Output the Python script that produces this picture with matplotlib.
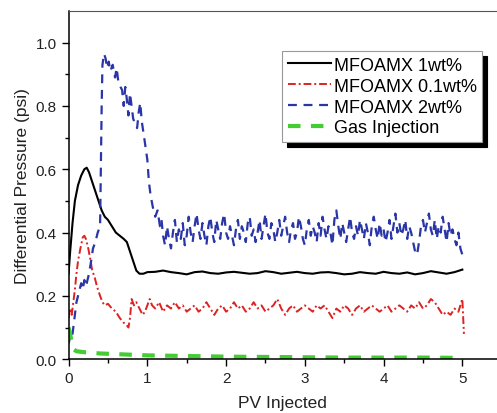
import matplotlib
matplotlib.use('Agg')
import matplotlib.pyplot as plt
import numpy as np

plt.rcParams['font.family'] = ['Liberation Sans', 'DejaVu Sans']

# ---------------- data ----------------
# MFOAMX 1wt%  (black, solid)
black_x_start = [0.0, 0.02, 0.05, 0.08, 0.12, 0.16, 0.20, 0.23, 0.26, 0.30, 0.34, 0.38,
                 0.42, 0.46, 0.50, 0.55, 0.60, 0.65, 0.70, 0.74, 0.78, 0.82, 0.86, 0.90,
                 0.95]
black_y_start = [0.27, 0.34, 0.43, 0.50, 0.55, 0.58, 0.60, 0.605, 0.59, 0.56, 0.53, 0.50,
                 0.47, 0.45, 0.44, 0.42, 0.40, 0.39, 0.38, 0.37, 0.34, 0.31, 0.28, 0.27,
                 0.27]
black_y_flat = [0.275, 0.276, 0.280, 0.275, 0.272, 0.268, 0.275, 0.277, 0.272, 0.270,
                0.274, 0.276, 0.273, 0.270, 0.272, 0.278, 0.275, 0.270, 0.273, 0.276,
                0.272, 0.270, 0.274, 0.275, 0.272, 0.268, 0.270, 0.275, 0.272, 0.270,
                0.276, 0.272, 0.270, 0.274, 0.268, 0.272, 0.278, 0.274, 0.270, 0.275,
                0.283]  # 1.0 .. 5.0

# MFOAMX 0.1wt%  (red, dash-dot)
red_x_start = [0.0, 0.02, 0.04, 0.06, 0.08, 0.10, 0.12, 0.15, 0.18, 0.20, 0.22, 0.25,
               0.28, 0.30, 0.33, 0.36, 0.40, 0.43, 0.46, 0.50, 0.55, 0.60, 0.65, 0.70,
               0.73, 0.76, 0.78, 0.80, 0.83, 0.86, 0.90, 0.94, 0.97, 1.00, 1.03, 1.06]
red_y_start = [0.13, 0.16, 0.14, 0.18, 0.22, 0.27, 0.31, 0.35, 0.385, 0.39, 0.38, 0.35,
               0.31, 0.28, 0.26, 0.23, 0.20, 0.18, 0.17, 0.175, 0.16, 0.15, 0.13, 0.115,
               0.11, 0.10, 0.13, 0.19, 0.17, 0.18, 0.16, 0.14, 0.15, 0.17, 0.19, 0.17]
red_y_flat = [.16, .18, .15, .17, .16, .18, .16, .17, .15, .16, .17, .15, .16, .18, .16,
              .14, .16, .17, .15, .16, .18, .16, .17, .15, .16, .18, .16, .17, .15, .16,
              .17, .19, .16, .14, .16, .17, .15, .16, .17, .16, .15, .17, .16, .17, .15,
              .13, .16, .15, .17, .16, .14, .16, .17, .15, .16, .17, .16, .15, .16, .17,
              .15, .16, .17, .16, .15, .17, .16, .18, .16, .17, .19, .18, .16, .14, .15,
              .14, .16, .15, .19]  # 1.10 .. 5.00
red_x_end = [5.02]
red_y_end = [0.08]

# MFOAMX 2wt%  (blue, dashed)
blue_x_start = [0.0, 0.02, 0.04, 0.06, 0.08, 0.10, 0.12, 0.14, 0.16, 0.18, 0.20, 0.22,
                0.25, 0.28, 0.31, 0.34, 0.37, 0.40, 0.42, 0.43, 0.45, 0.47, 0.49, 0.51,
                0.53, 0.56, 0.59, 0.61, 0.63, 0.66, 0.68, 0.70, 0.72, 0.74, 0.76, 0.78,
                0.80, 0.82, 0.85, 0.87, 0.89, 0.91, 0.93, 0.96, 1.00, 1.02, 1.04, 1.07,
                1.10, 1.13, 1.16, 1.18]
blue_y_start = [0.05, 0.07, 0.06, 0.10, 0.14, 0.18, 0.20, 0.22, 0.24, 0.22, 0.25, 0.23,
                0.26, 0.30, 0.35, 0.37, 0.40, 0.42, 0.80, 0.93, 0.965, 0.95, 0.92, 0.94,
                0.91, 0.93, 0.89, 0.92, 0.88, 0.86, 0.85, 0.80, 0.86, 0.82, 0.77, 0.84,
                0.80, 0.76, 0.74, 0.73, 0.78, 0.81, 0.75, 0.70, 0.63, 0.56, 0.52, 0.48,
                0.45, 0.47, 0.42, 0.44]
blue_y_flat = [.39, .36, .42, .38, .35, .40, .44, .37, .41, .38, .43, .36, .39, .45, .40, .37, .42,
               .46, .41, .38, .43, .39, .36, .42, .45, .40, .37, .44, .41, .38, .43, .46, .40, .38,
               .42, .39, .36, .41, .44, .38, .42, .40, .37, .43, .45, .39, .41, .37, .40, .44, .38,
               .42, .46, .40, .38, .43, .41, .37, .40, .44, .39, .42, .45, .40, .37, .41, .43, .38,
               .40, .45, .42, .38, .36, .41, .44, .39, .42, .40, .37, .43, .39, .45, .41, .38, .42,
               .40, .36, .44, .47, .42, .38, .43, .40, .37, .41, .45, .40, .38, .42, .39, .44, .41,
               .38, .43, .40, .36, .42, .45, .41, .38, .43, .39, .41, .37, .40, .44, .38, .42, .46,
               .40, .43, .39, .41, .44, .38, .42, .40, .37, .34, .33, .37, .42, .44, .40, .43, .46,
               .41, .39, .44, .38, .42, .40, .45, .41, .37, .43, .39, .41, .38, .36, .40, .35, .33]
# 1.20 .. 5.00

# Gas Injection  (green, thick dashed)
green_x = [0.0, 0.02, 0.04, 0.07, 0.10, 0.20, 0.40, 0.70, 1.0, 1.5, 2.0, 2.5, 3.0,
           3.5, 4.0, 4.5, 5.0]
green_y = [0.10, 0.08, 0.05, 0.03, 0.025, 0.022, 0.018, 0.015, 0.012, 0.010, 0.008,
           0.007, 0.006, 0.005, 0.005, 0.005, 0.004]

# ---------------- assemble ----------------
black_x = black_x_start + list(np.linspace(1.0, 5.0, len(black_y_flat)))
black_y = black_y_start + black_y_flat
red_x = red_x_start + list(np.linspace(1.10, 5.00, len(red_y_flat))) + red_x_end
red_y = red_y_start + red_y_flat + red_y_end
blue_x = blue_x_start + list(np.linspace(1.20, 5.00, len(blue_y_flat)))
blue_y = blue_y_start + blue_y_flat

fig = plt.figure(figsize=(4.97, 4.14), dpi=100)
ax = fig.add_axes([0.138, 0.130, 0.862, 0.841])

ax.plot(black_x, black_y, color='black', lw=1.5, label='MFOAMX 1wt%')
ax.plot(red_x, red_y, color='#dd2222', lw=1.4, linestyle=(0, (4, 1.5, 1, 1.5)),
        label='MFOAMX 0.1wt%')
ax.plot(blue_x, blue_y, color='#2a35a8', lw=1.6, linestyle=(0, (4, 3)),
        label='MFOAMX 2wt%')
ax.plot(green_x, green_y, color='#44cc33', lw=3, linestyle=(0, (3, 2.5)),
        label='Gas Injection')

ax.set_xlim(0, 5.44)
ax.set_ylim(0, 1.10)
ax.set_xticks([0, 1, 2, 3, 4, 5])
ax.set_xticks([0.5, 1.5, 2.5, 3.5, 4.5], minor=True)
ax.set_yticks([0.0, 0.2, 0.4, 0.6, 0.8, 1.0])
ax.set_yticks([0.1, 0.3, 0.5, 0.7, 0.9], minor=True)
ax.set_yticklabels(['0.0', '0.2', '0.4', '0.6', '0.8', '1.0'])
ax.tick_params(which='major', direction='out', length=5, width=1, labelsize=11,
               labelcolor='#222222')
ax.tick_params(which='minor', direction='out', length=3, width=1)
ax.spines['right'].set_visible(False)
ax.spines['top'].set_color('#555555')
for s in ['left', 'bottom']:
    ax.spines[s].set_linewidth(1.1)

ax.set_xlabel('PV Injected', fontsize=12.5, color='#222222', labelpad=7)
ax.set_ylabel('Differential Pressure (psi)', fontsize=12.5, color='#222222')

# legend with a solid black drop shadow (about 5 px right and down)
leg = ax.legend(loc='upper right', bbox_to_anchor=(0.970, 0.874),
                bbox_transform=fig.transFigure, borderaxespad=0,
                fontsize=13, frameon=True, fancybox=False, framealpha=1,
                edgecolor='#999999', handlelength=2.4, handletextpad=0.15,
                labelspacing=0.22, borderpad=0.3,
                shadow={'ox': 3.6, 'oy': -3.6, 'color': 'black', 'alpha': 1})
leg.get_frame().set_linewidth(0.8)

fig.savefig('out.png', dpi=100)
